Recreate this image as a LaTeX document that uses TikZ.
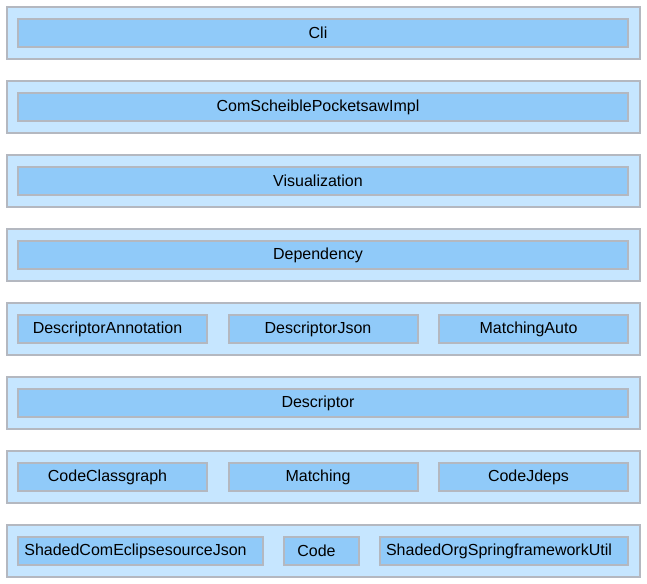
\documentclass[tikz,border=0pt]{standalone}
\usepackage{fontspec}
\setmainfont{Liberation Sans}
\definecolor{layerfill}{HTML}{C6E6FF}
\definecolor{boxfill}{HTML}{90CAF9}
\definecolor{edgegray}{HTML}{B4B8C0}
\tikzset{
  layer/.style={draw=edgegray, fill=layerfill, line width=1.5pt, inner sep=0pt,
    minimum width=474.75pt, minimum height=39pt},
  module/.style={draw=edgegray, fill=boxfill, line width=1.5pt, inner sep=0pt,
    minimum height=21pt, font=\fontsize{12pt}{14pt}\selectfont,
    execute at begin node=\hspace*{-7.5pt}},
  full/.style={module, minimum width=457.5pt},
  third/.style={module, minimum width=141.75pt}
}
\begin{document}
\begin{tikzpicture}[x=0.75pt, y=-0.75pt]
    \useasboundingbox (0,0) rectangle (647,584);
    %layer 1
    \node[layer] (l1) at (323.5,33) {};
    \node[full] (cli) at (323,33) {Cli};
    %layer 2
    \node[layer] (l2) at (323.5,107) {};
    \node[full] (impl) at (323,107) {ComScheiblePocketsawImpl};
    %layer 3
    \node[layer] (l3) at (323.5,181) {};
    \node[full] (vis) at (323,181) {Visualization};
    %layer 4
    \node[layer] (l4) at (323.5,255) {};
    \node[full] (dep) at (323,255) {Dependency};
    %layer 5
    \node[layer] (l5) at (323.5,329) {};
    \node[third] (descann) at (112.5,329) {DescriptorAnnotation};
    \node[third] (descjson) at (323,329) {DescriptorJson};
    \node[third] (matchauto) at (533.5,329) {MatchingAuto};
    %layer 6
    \node[layer] (l6) at (323.5,403) {};
    \node[full] (desc) at (323,403) {Descriptor};
    %layer 7
    \node[layer] (l7) at (323.5,477) {};
    \node[third] (classgraph) at (112.5,477) {CodeClassgraph};
    \node[third] (matching) at (323,477) {Matching};
    \node[third] (jdeps) at (533.5,477) {CodeJdeps};
    %layer 8
    \node[layer] (l8) at (323.5,551) {};
    \node[module, minimum width=183.75pt] (shjson) at (140.5,551) {ShadedComEclipsesourceJson};
    \node[module, minimum width=56.25pt] (code) at (321.5,551) {Code};
    \node[module, minimum width=186pt] (shutil) at (504,551) {ShadedOrgSpringframeworkUtil};
\end{tikzpicture}
\end{document}
